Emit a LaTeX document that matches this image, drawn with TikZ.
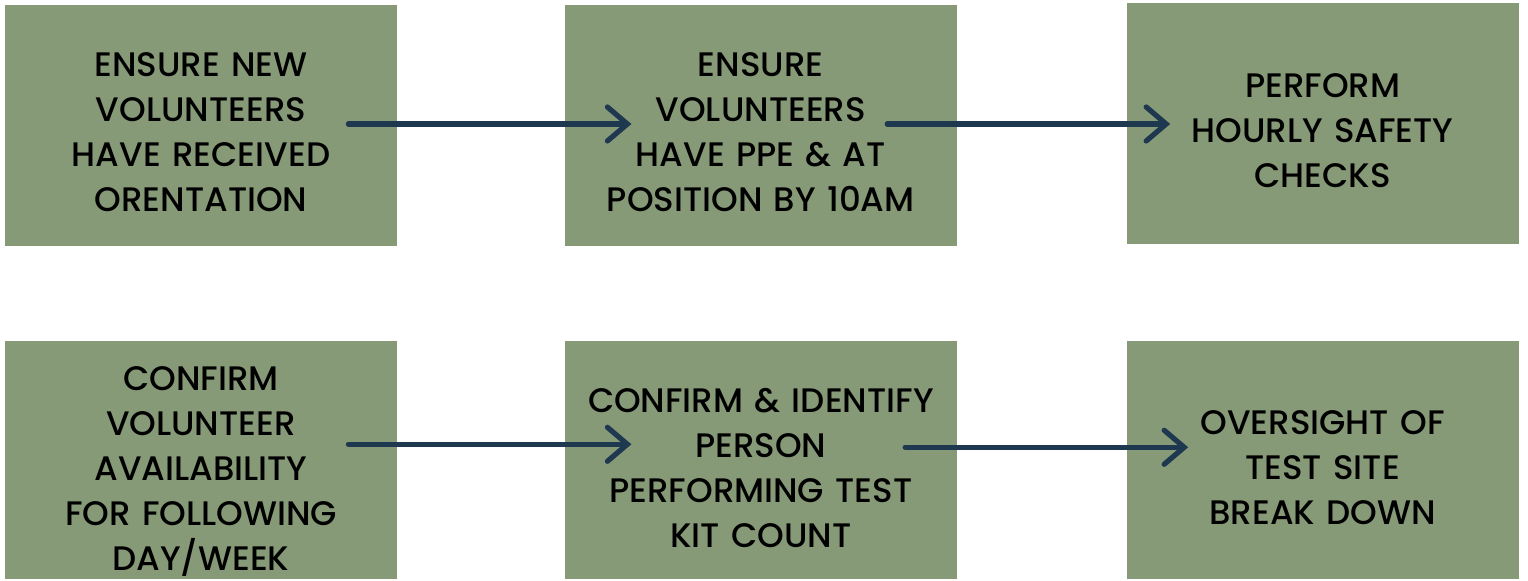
\documentclass[tikz,border=0pt]{standalone}
\usepackage{fontspec}
\setmainfont{Poppins}[UprightFont=* Medium]
\usetikzlibrary{arrows.meta,positioning,calc}
\definecolor{sage}{HTML}{879A77}
\definecolor{navy}{HTML}{1E3850}

\begin{document}
\begin{tikzpicture}[x=0.5pt,y=0.5pt,>={Straight Barb[length=10pt,width=17pt,line cap=round]},
  task/.style={fill=sage,align=center,text width=190pt,minimum width=196pt,minimum height=120.5pt,inner sep=0pt,
    font=\fontsize{17}{22.5}\selectfont,topgap=19pt},
  topgap/.style={execute at begin node={\rule{0pt}{#1}}},
  flow/.style={->,line width=2.6pt,navy,line cap=round}]
\useasboundingbox (0,0) rectangle (1528,581);
\node[task] (orient) at (201,455.5) {ENSURE NEW\\VOLUNTEERS\\HAVE RECEIVED\\ORENTATION};
\node[task,right=83.5pt of orient] (ppe) {ENSURE\\VOLUNTEERS\\HAVE PPE \& AT\\POSITION BY 10AM};
\node[task,right=84.5pt of ppe,yshift=1pt] (checks) {PERFORM\\HOURLY SAFETY\\CHECKS};
\node[task,below=48pt of orient,minimum height=119pt,yshift=0.75pt,topgap=23pt] (avail) {CONFIRM\\VOLUNTEER\\AVAILABILITY\\FOR FOLLOWING\\DAY/WEEK};
\node[task,right=83.5pt of avail,minimum height=119pt,topgap=20pt] (kit) {CONFIRM \& IDENTIFY\\PERSON\\PERFORMING TEST\\KIT COUNT};
\node[task,right=84.5pt of kit,minimum height=119pt] (site) {OVERSIGHT OF\\TEST SITE\\BREAK DOWN};
\draw[flow] ($(orient.east)+(-49,1.5)$)--($(ppe.west)+(67,1.5)$);
\draw[flow] ($(ppe.east)+(-70,1.5)$)--($(checks.west)+(44,-0.5)$);
\draw[flow] ($(avail.east)+(-49,16)$)--($(kit.west)+(67,16)$);
\draw[flow] ($(kit.east)+(-52,13)$)--($(site.west)+(62,13)$);
\end{tikzpicture}
\end{document}
